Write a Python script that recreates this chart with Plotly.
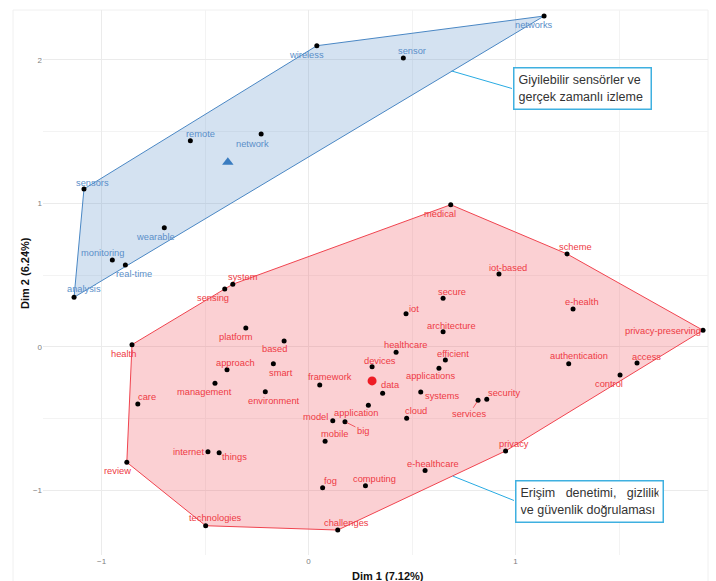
import plotly.graph_objects as go
import numpy as np

# ---------------- data ----------------
blue_words = ["wireless", "networks", "sensor", "remote", "network", "sensors",
              "wearable", "monitoring", "real-time", "analysis"]
blue_x = [0.040, 1.138, 0.458, -0.571, -0.229, -1.085, -0.697, -0.948, -0.885, -1.133]
blue_y = [2.098, 2.305, 2.013, 1.436, 1.483, 1.100, 0.830, 0.605, 0.570, 0.345]
blue_centroid = [-0.390, 1.286]

red_words = ["system", "sensing", "platform", "based", "health", "approach", "smart",
             "management", "environment", "care", "framework", "devices", "healthcare",
             "data", "application", "model", "big", "mobile", "internet", "things",
             "review", "fog", "computing", "e-healthcare", "privacy", "technologies",
             "challenges", "cloud", "medical", "scheme", "iot-based", "secure",
             "e-health", "iot", "architecture", "privacy-preserving", "efficient",
             "authentication", "access", "applications", "control", "systems",
             "security", "services"]
red_x = [-0.366, -0.405, -0.303, -0.118, -0.853, -0.394, -0.170, -0.452, -0.209, -0.825,
         0.054, 0.307, 0.423, 0.358, 0.289, 0.117, 0.176, 0.080, -0.486, -0.432,
         -0.878, 0.068, 0.275, 0.563, 0.952, -0.497, 0.141, 0.474, 0.687, 1.249,
         0.920, 0.650, 1.278, 0.471, 0.650, 1.906, 0.661, 1.257, 1.587, 0.630,
         1.505, 0.542, 0.861, 0.819]
red_y = [0.436, 0.403, 0.131, 0.040, 0.015, -0.160, -0.118, -0.254, -0.313, -0.399,
         -0.266, -0.139, -0.038, -0.324, -0.408, -0.515, -0.522, -0.659, -0.731, -0.738,
         -0.805, -0.982, -0.968, -0.863, -0.726, -1.247, -1.277, -0.498, 0.990, 0.647,
         0.507, 0.338, 0.263, 0.231, 0.105, 0.115, -0.092, -0.118, -0.113, -0.150,
         -0.197, -0.315, -0.366, -0.373]
red_centroid = [0.307, -0.238]

x_ticks = [-1, 0, 1]
y_ticks = [-1, 0, 1, 2]
x_title = "Dim 1 (7.12%)"
y_title = "Dim 2 (6.24%)"
note_top = "Giyilebilir sensörler ve<br>gerçek zamanlı izleme"
note_bottom = "Erişim\u00a0\u00a0 denetimi,\u00a0\u00a0 gizlilik<br>ve güvenlik doğrulaması"

# ---------------- label offsets (pixels: dx right, dy down) ----------------
label_offsets = {
    "wireless": (-10, 9), "networks": (-10, 9), "sensor": (9, -7), "remote": (10, -7),
    "network": (-9, 10), "sensors": (9, -6), "wearable": (-9, 9), "monitoring": (-10, -7),
    "real-time": (9, 9), "analysis": (10, -8),
    "system": (10, -7), "sensing": (-12, 9), "platform": (-10, 9), "based": (-10, 8),
    "health": (-9, 9), "approach": (8, -7), "smart": (8, 9), "management": (-10, 9),
    "environment": (9, 9), "care": (9, -7), "framework": (10, -8), "devices": (8, -6),
    "healthcare": (9, -7), "data": (8, -8), "application": (-12, 8), "model": (-17, -4),
    "big": (18, 9), "mobile": (9, -7), "internet": (-19, 0), "things": (15, 4),
    "review": (-9, 9), "fog": (8, -7), "computing": (9, -7), "e-healthcare": (8, -7),
    "privacy": (8, -7), "technologies": (10, -8), "challenges": (9, -7), "cloud": (9, -7),
    "medical": (-11, 9), "scheme": (8, -7), "iot-based": (9, -6), "secure": (9, -6),
    "e-health": (9, -7), "iot": (8, -5), "architecture": (8, -6),
    "privacy-preserving": (-40, 1), "efficient": (8, -6), "authentication": (10, -8),
    "access": (9, -6), "applications": (-8, 8), "control": (-11, 9), "systems": (21, 4),
    "security": (17, -6), "services": (-9, 14),
}
segment_labels = {"big", "services"}

# ---------------- styles ----------------
BLUE_LINE = "#4a87c4"
BLUE_FILL = "rgba(74,135,196,0.24)"
BLUE_TEXT = "#5b8fc9"
RED_LINE = "#f0444f"
RED_FILL = "rgba(240,68,79,0.25)"
RED_TEXT = "#ee3a44"
FONT = "Liberation Sans, Arial, sans-serif"

W, H = 716, 581
ML, MR, MT, MB = 43, 8, 10, 26
XR = [-1.283, 1.930]
YR = [-1.451, 2.347]


def hull(xs, ys):
    pts = sorted(set(zip(xs, ys)))

    def cross(o, a, b):
        return (a[0] - o[0]) * (b[1] - o[1]) - (a[1] - o[1]) * (b[0] - o[0])

    lower, upper = [], []
    for p in pts:
        while len(lower) >= 2 and cross(lower[-2], lower[-1], p) <= 0:
            lower.pop()
        lower.append(p)
    for p in reversed(pts):
        while len(upper) >= 2 and cross(upper[-2], upper[-1], p) <= 0:
            upper.pop()
        upper.append(p)
    h = lower[:-1] + upper[:-1]
    h.append(h[0])
    return [p[0] for p in h], [p[1] for p in h]


def px2paper(px, py):
    return (px - ML) / (W - ML - MR), (H - MB - py) / (H - MT - MB)


fig = go.Figure()

for xs, ys, lc, fc in [(blue_x, blue_y, BLUE_LINE, BLUE_FILL), (red_x, red_y, RED_LINE, RED_FILL)]:
    hx, hy = hull(xs, ys)
    fig.add_trace(go.Scatter(x=hx, y=hy, mode="lines", fill="toself", fillcolor=fc,
                             line=dict(color=lc, width=1), hoverinfo="skip", showlegend=False))

fig.add_trace(go.Scatter(x=blue_x + red_x, y=blue_y + red_y, mode="markers",
                         marker=dict(color="black", size=5), showlegend=False))
fig.add_trace(go.Scatter(x=[blue_centroid[0]], y=[blue_centroid[1]], mode="markers",
                         marker=dict(color="#3a7cc0", size=10, symbol="triangle-up"),
                         showlegend=False))
fig.add_trace(go.Scatter(x=[red_centroid[0]], y=[red_centroid[1]], mode="markers",
                         marker=dict(color="#ee1c25", size=9, symbol="circle"),
                         showlegend=False))

annotations = []
for words, xs, ys, col in [(blue_words, blue_x, blue_y, BLUE_TEXT), (red_words, red_x, red_y, RED_TEXT)]:
    for w, x, y in zip(words, xs, ys):
        dx, dy = label_offsets[w]
        if w in segment_labels:
            annotations.append(dict(x=x, y=y, text=w, showarrow=True, ax=dx, ay=dy,
                                    arrowhead=0, arrowwidth=0.8, arrowcolor=col, standoff=2,
                                    font=dict(family=FONT, size=9.3, color=col)))
        else:
            annotations.append(dict(x=x, y=y, text=w, showarrow=False, xshift=dx, yshift=-dy,
                                    font=dict(family=FONT, size=9.3, color=col)))

# axis titles
tx, ty = px2paper(388, 576)
annotations.append(dict(x=tx, y=ty, xref="paper", yref="paper", text="<b>" + x_title + "</b>",
                        showarrow=False, xanchor="center", yanchor="middle",
                        font=dict(family=FONT, size=11, color="#111")))
tx, ty = px2paper(25, 273)
annotations.append(dict(x=tx, y=ty, xref="paper", yref="paper", text="<b>" + y_title + "</b>",
                        showarrow=False, textangle=-90, xanchor="center", yanchor="middle",
                        font=dict(family=FONT, size=11, color="#111")))

# callout boxes
for (cx, cy), txt, bw in [((582, 89), note_top, 128), ((589, 501.5), note_bottom, 138)]:
    bx, by = px2paper(cx, cy)
    annotations.append(dict(x=bx, y=by, xref="paper", yref="paper", text=txt, showarrow=False,
                            xanchor="center", yanchor="middle",
                            align="left", width=bw, height=32, borderpad=4,
                            bgcolor="white", bordercolor="#3fb0e0", borderwidth=1.5,
                            font=dict(family=FONT, size=12.5, color="#333")))

shapes = []
for (x0, y0, x1, y1) in [(451.7, 71, 512, 88.5), (452.7, 476, 514, 500.5)]:
    a0, b0 = px2paper(x0, y0)
    a1, b1 = px2paper(x1, y1)
    shapes.append(dict(type="line", xref="paper", yref="paper", x0=a0, y0=b0, x1=a1, y1=b1,
                       line=dict(color="#29abe2", width=1)))
# faint outer frame
fx0, fy0 = px2paper(13, 590)
fx1, fy1 = px2paper(708, 10)
shapes.append(dict(type="rect", xref="paper", yref="paper", x0=fx0, y0=fy0, x1=fx1, y1=fy1,
                   line=dict(color="#f0f0f0", width=1), layer="below"))

fig.update_layout(
    width=W, height=H,
    margin=dict(l=ML, r=MR, t=MT, b=MB),
    paper_bgcolor="white", plot_bgcolor="white",
    showlegend=False,
    annotations=annotations, shapes=shapes,
    font=dict(family=FONT),
    xaxis=dict(range=XR, tickvals=x_ticks, showgrid=True, gridcolor="#ebebeb", gridwidth=1,
               zeroline=False, showline=False, ticks="", ticklen=0,
               tickfont=dict(size=8, color="#808080"),
               minor=dict(dtick=0.5, tick0=0, showgrid=True, gridcolor="#f3f3f3", gridwidth=1)),
    yaxis=dict(range=YR, tickvals=y_ticks, showgrid=True, gridcolor="#ebebeb", gridwidth=1,
               zeroline=False, showline=False, ticks="", ticklen=0,
               tickfont=dict(size=8, color="#808080"),
               minor=dict(dtick=0.5, tick0=0, showgrid=True, gridcolor="#f3f3f3", gridwidth=1)),
)

fig.write_html("out.html")
